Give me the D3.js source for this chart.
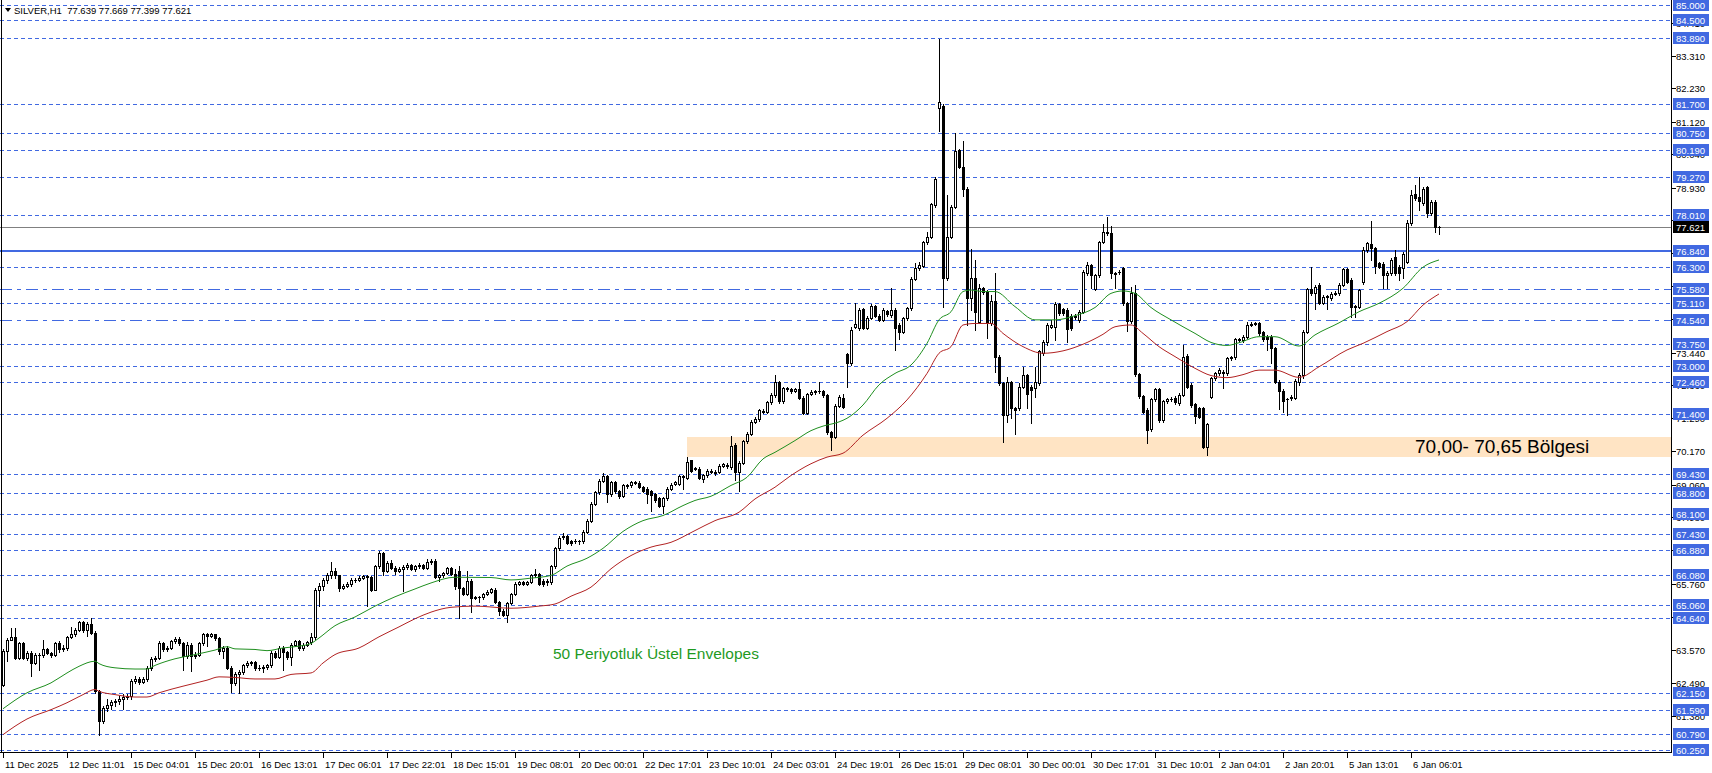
<!DOCTYPE html>
<html><head><meta charset="utf-8">
<script src="https://cdn.jsdelivr.net/npm/d3@7"></script>
<style>
body{margin:0;background:#fff;overflow:hidden}
svg{display:block}
text{font-family:"Liberation Sans",Arial,sans-serif}
</style>
</head><body>
<svg id="chart" width="1712" height="773"></svg>
<script>
// ---------------- DATA ----------------
const symbolTitle = "SILVER,H1  77.639 77.669 77.399 77.621";

const openP = [
62.42,63.53,63.92,64.01,63.31,63.79,63.31,63.48,63.14,63.42,
63.39,63.61,63.48,63.42,63.79,63.59,63.64,64.01,64.09,64.25,
64.50,64.23,64.45,64.14,62.20,61.21,61.65,61.76,61.84,61.87,
61.93,62.01,62.06,62.53,62.61,62.52,62.61,62.98,63.28,63.32,
63.81,63.61,63.64,63.86,63.94,63.79,63.37,63.75,63.37,63.42,
63.79,64.09,64.05,64.09,63.97,63.53,63.64,62.98,62.48,62.76,
62.83,63.06,63.14,63.17,62.98,62.97,63.01,63.06,63.48,63.34,
63.64,63.50,63.34,63.75,63.86,63.64,63.75,63.83,64.01,65.58,
65.69,65.89,66.05,66.19,66.05,65.64,65.71,65.75,65.91,65.89,
65.96,66.02,66.00,65.58,66.36,66.80,66.19,66.47,66.30,66.19,
66.27,66.32,66.38,66.27,66.36,66.38,66.29,66.49,66.54,65.99,
66.05,66.13,66.29,66.10,66.21,65.62,65.44,65.88,65.29,65.33,
65.33,65.44,65.51,65.58,65.16,64.88,64.72,65.14,65.44,65.77,
65.83,65.77,65.83,66.05,66.10,65.88,65.83,65.83,66.36,66.95,
67.32,67.37,67.18,67.18,67.18,67.18,67.49,67.87,68.43,68.81,
69.20,69.35,68.76,69.15,68.84,68.68,69.04,69.04,69.15,69.13,
68.98,68.93,68.84,68.76,68.61,68.37,68.61,68.93,69.09,69.09,
69.35,69.28,69.87,69.59,69.59,69.26,69.37,69.53,69.50,69.48,
69.70,69.72,69.64,70.39,69.48,69.79,70.50,70.75,71.14,71.23,
71.49,71.49,71.80,72.03,72.49,71.83,72.27,72.25,72.19,72.23,
71.95,71.45,72.08,72.14,72.16,72.16,72.03,70.81,70.64,71.69,
71.93,73.39,73.10,74.31,74.26,74.90,74.28,74.61,75.01,74.68,
74.54,74.84,74.70,74.87,74.37,74.15,74.59,74.92,75.90,76.25,
76.34,77.11,77.30,78.36,81.57,81.66,75.94,77.30,78.30,80.18,
79.63,78.89,75.26,75.92,74.48,75.59,75.48,74.42,75.17,73.32,
72.43,71.38,72.46,71.60,71.60,72.32,72.71,72.32,72.26,72.43,
73.43,73.82,74.31,74.31,75.06,74.90,74.87,74.68,74.65,74.54,
74.81,76.09,76.36,75.57,76.03,77.13,77.45,77.41,76.09,76.14,
76.25,75.09,74.50,75.42,72.73,72.00,71.55,70.91,71.91,72.24,
71.21,71.84,71.91,71.95,71.77,72.04,73.35,72.38,71.73,71.60,
71.60,70.33,71.99,72.60,72.76,72.82,72.76,73.26,73.29,73.90,
73.87,73.98,74.37,74.40,74.44,74.14,73.98,73.98,73.59,72.49,
72.19,71.90,71.93,71.93,72.49,72.71,74.15,75.55,75.42,75.70,
75.11,75.31,75.25,75.40,75.42,75.70,76.22,75.87,75.00,74.98,
75.81,76.86,77.06,76.92,76.42,76.40,76.03,76.09,76.62,76.31,
76.25,76.47,77.75,78.72,78.61,78.41,78.94,78.08,78.47,77.639];

const highP = [
63.59,63.97,64.31,64.31,63.85,63.83,63.55,63.53,63.47,63.48,
63.92,63.65,63.52,63.83,63.86,63.75,64.05,64.34,64.30,64.55,
64.55,64.50,64.64,64.20,62.25,61.70,61.95,61.92,61.95,62.05,
62.10,62.12,62.60,62.70,62.66,62.68,63.03,63.33,63.37,63.86,
63.85,63.70,63.92,64.00,64.00,63.83,63.83,63.80,63.50,63.83,
64.14,64.14,64.14,64.12,64.00,63.70,63.70,63.03,62.85,62.92,
63.12,63.20,63.22,63.20,63.06,63.08,63.12,63.53,63.55,63.70,
63.70,63.55,63.81,63.92,63.90,63.80,63.88,64.14,65.62,65.80,
65.95,66.12,66.49,66.30,66.08,65.78,65.82,65.97,65.96,66.02,
66.06,66.06,66.04,66.40,66.85,66.82,66.52,66.55,66.35,66.32,
66.38,66.45,66.42,66.40,66.45,66.42,66.58,66.60,66.58,66.10,
66.18,66.34,66.32,66.27,66.36,65.66,66.21,65.92,65.38,65.38,
65.48,65.56,65.64,65.62,65.20,64.92,65.18,65.48,65.82,65.88,
65.86,65.88,66.10,66.27,66.12,65.92,65.92,66.40,67.00,67.35,
67.46,67.40,67.22,67.25,67.24,67.55,67.92,68.48,68.86,69.25,
69.46,69.40,69.20,69.18,68.88,69.09,69.09,69.20,69.20,69.18,
69.02,68.98,68.88,68.80,68.65,68.66,68.98,69.12,69.20,69.40,
69.40,69.98,69.90,69.66,69.64,69.42,69.58,69.58,69.55,69.75,
69.80,69.78,70.67,70.45,69.84,70.55,70.80,71.20,71.30,71.58,
71.58,71.85,72.10,72.71,72.52,72.32,72.30,72.28,72.28,72.49,
72.00,72.12,72.20,72.22,72.47,72.20,72.08,70.85,71.74,72.03,
72.07,73.43,74.31,75.09,74.92,74.95,74.66,75.06,75.05,74.72,
74.92,74.88,75.59,74.92,74.42,74.64,74.97,75.95,76.42,76.45,
77.16,77.45,78.43,79.27,83.86,81.70,78.69,78.36,80.74,80.22,
80.48,78.94,76.89,76.53,75.72,75.64,75.52,75.37,76.09,73.36,
72.47,72.65,72.50,71.64,72.43,72.99,72.75,72.36,72.99,73.54,
73.87,74.42,74.54,75.12,75.10,74.95,74.92,74.72,74.74,74.86,
76.20,76.45,76.40,76.08,77.16,77.71,77.97,77.67,76.12,76.18,
76.31,75.12,75.64,75.70,72.77,72.04,71.60,71.95,72.29,72.28,
71.89,71.96,71.97,72.00,72.10,73.70,73.40,72.43,71.77,71.64,
71.64,71.12,72.65,72.82,72.93,72.88,73.31,73.34,73.95,73.95,
74.04,74.48,74.46,74.48,74.48,74.18,74.03,74.03,73.64,72.54,
72.24,71.95,72.04,72.57,72.76,74.20,75.60,76.29,75.70,75.75,
75.36,75.38,75.45,75.50,75.75,76.27,76.27,75.92,75.05,75.58,
76.97,77.13,77.84,76.97,76.47,76.45,76.16,76.58,76.86,76.36,
76.78,77.86,78.85,79.02,79.30,78.97,78.99,78.52,78.52,77.669];

const lowP = [
62.37,63.20,63.90,63.28,63.26,63.28,63.25,62.70,63.10,62.92,
63.35,63.44,63.35,63.38,63.52,63.55,63.58,63.97,64.05,64.20,
64.18,64.05,64.10,62.15,60.76,61.15,61.55,61.60,61.72,61.78,
61.60,61.96,61.95,62.48,62.45,62.48,62.55,62.92,63.20,63.26,
63.55,63.55,63.60,63.80,63.75,62.92,63.30,62.87,63.30,63.36,
63.75,63.70,64.00,63.90,63.45,63.30,62.95,62.17,62.40,62.15,
62.78,63.00,63.08,62.92,62.90,62.85,62.95,63.00,63.30,63.30,
62.92,63.28,63.06,63.70,63.58,63.58,63.70,63.78,63.95,65.05,
65.55,65.80,65.98,65.98,65.52,65.60,65.66,65.70,65.84,65.86,
65.92,65.05,65.52,65.55,66.30,66.05,66.15,66.25,66.10,66.15,
65.52,66.25,66.22,66.20,66.30,66.25,66.25,66.44,65.95,65.88,
66.00,66.10,66.05,65.60,64.63,65.40,65.40,64.83,65.25,65.16,
65.28,65.40,65.46,65.12,64.72,64.69,64.50,65.10,65.40,65.72,
65.72,65.72,65.80,66.00,65.72,65.70,65.74,65.78,66.30,66.90,
67.25,67.08,67.05,67.12,67.10,67.13,67.45,67.82,68.38,68.76,
69.15,68.50,68.70,68.80,68.62,68.64,68.96,69.00,69.08,68.94,
68.81,68.46,68.20,68.50,68.33,68.13,68.56,68.88,69.04,69.04,
68.93,69.24,69.48,69.54,69.24,69.15,69.32,69.45,69.40,69.44,
69.65,69.62,69.60,69.23,68.84,69.74,70.45,70.70,71.10,71.18,
71.44,71.44,71.76,71.98,71.78,71.78,72.18,72.10,72.14,71.90,
71.40,71.40,72.03,72.08,72.12,71.98,70.75,70.20,70.60,71.64,
71.60,72.32,73.05,74.26,74.20,74.24,74.24,74.56,74.62,74.50,
74.50,74.68,74.65,73.54,73.90,74.10,74.55,74.88,75.85,76.20,
76.30,77.05,77.25,78.30,80.81,74.98,75.88,77.25,78.25,79.58,
78.67,74.37,74.87,74.20,74.42,75.40,73.93,74.38,72.82,72.38,
70.49,71.16,71.27,70.74,71.55,72.28,71.60,71.10,71.99,72.38,
73.38,73.70,74.26,73.87,74.70,74.70,73.82,74.20,74.58,74.48,
74.76,76.04,75.59,75.52,75.98,77.08,77.36,75.92,75.59,76.06,
75.04,74.17,74.45,72.68,71.95,71.45,70.44,70.86,71.86,71.16,
71.16,71.79,71.86,71.75,71.72,72.00,72.28,71.66,71.10,71.27,
70.27,70.05,71.94,72.55,72.70,72.26,72.70,73.20,73.24,73.82,
73.82,73.93,74.32,74.36,74.04,73.84,73.54,73.12,72.43,71.57,
71.49,71.38,71.88,71.90,72.38,72.62,74.09,75.37,74.89,75.06,
75.06,74.89,75.20,75.35,75.37,75.65,75.76,74.65,74.65,74.93,
75.73,76.81,76.53,76.09,76.26,75.59,75.59,76.04,76.04,75.87,
75.92,76.42,77.70,78.53,78.19,78.36,77.97,78.03,77.47,77.399];

const closeP = [
63.53,63.92,64.01,63.31,63.79,63.31,63.48,63.14,63.42,63.39,
63.61,63.48,63.42,63.79,63.59,63.64,64.01,64.09,64.25,64.50,
64.23,64.45,64.14,62.20,61.21,61.65,61.76,61.84,61.87,61.93,
62.01,62.06,62.53,62.61,62.52,62.61,62.98,63.28,63.32,63.81,
63.61,63.64,63.86,63.94,63.79,63.37,63.75,63.37,63.42,63.79,
64.09,64.05,64.09,63.97,63.53,63.64,62.98,62.48,62.76,62.83,
63.06,63.14,63.17,62.98,62.97,63.01,63.06,63.48,63.34,63.64,
63.50,63.34,63.75,63.86,63.64,63.75,63.83,64.01,65.58,65.69,
65.89,66.05,66.19,66.05,65.64,65.71,65.75,65.91,65.89,65.96,
66.02,66.00,65.58,66.36,66.80,66.19,66.47,66.30,66.19,66.27,
66.32,66.38,66.27,66.36,66.38,66.29,66.49,66.54,65.99,66.05,
66.13,66.29,66.10,65.69,65.62,65.44,65.88,65.29,65.33,65.33,
65.44,65.51,65.60,65.16,64.88,64.72,65.14,65.44,65.77,65.83,
65.77,65.83,66.05,66.10,65.77,65.77,65.88,66.36,66.95,67.29,
67.37,67.13,67.13,67.19,67.18,67.49,67.87,68.43,68.81,69.20,
69.35,68.76,69.15,68.84,68.68,69.04,69.01,69.15,69.13,68.98,
68.87,68.76,68.73,68.54,68.37,68.61,68.93,69.06,69.15,69.35,
69.31,69.83,69.53,69.61,69.28,69.37,69.53,69.50,69.46,69.70,
69.74,69.68,70.34,69.48,69.79,70.50,70.75,71.14,71.23,71.53,
71.52,71.80,72.05,72.49,71.83,72.27,72.23,72.19,72.23,71.95,
71.45,72.08,72.14,72.16,72.19,72.03,70.81,70.64,71.69,71.97,
71.66,73.10,74.20,74.39,74.87,74.28,74.61,75.01,74.68,74.54,
74.87,74.72,74.87,74.28,74.15,74.59,74.92,75.90,76.25,76.36,
77.11,77.30,78.38,79.22,81.77,75.94,77.30,78.30,80.15,79.63,
78.89,75.26,75.92,74.79,75.59,75.48,74.42,75.17,73.32,72.43,
71.38,72.46,71.60,71.55,72.32,72.71,72.07,72.21,72.46,73.49,
73.82,74.37,74.37,75.06,74.76,74.76,74.24,74.28,74.68,74.81,
76.14,76.36,76.03,76.03,77.11,77.45,77.41,76.09,76.05,76.12,
75.09,74.50,75.42,72.73,72.00,71.49,70.88,71.91,72.24,71.21,
71.84,71.91,71.91,71.82,72.04,73.32,72.32,71.71,71.36,71.32,
70.33,71.07,72.60,72.76,72.87,72.76,73.26,73.29,73.90,73.87,
73.98,74.37,74.40,74.42,74.09,73.89,73.89,73.59,72.49,72.19,
71.86,71.90,71.99,72.52,72.71,74.15,75.55,75.42,75.64,75.11,
75.31,75.33,75.40,75.44,75.70,76.22,75.81,74.96,74.98,75.53,
76.86,77.08,76.92,76.33,76.31,76.03,76.11,76.53,76.09,76.09,
76.73,77.77,78.69,78.58,78.50,78.88,78.08,78.47,77.64,77.621];

// Envelope (50-period exponential) — upper (green) and lower (red), read at sample bars
const upperEnvBars = [0,6,12,16,19,23,24,28,33,36,38,43,48,53,56,58,63,66,70,74,77,79,83,88,93,98,103,107,113,122,127,132,137,141,146,150,155,160,165,170,173,177,182,186,190,193,198,202,205,209,211,215,219,223,227,231,234,237,240,242,245,248,253,258,263,268,273,277,280,283,287,292,295,298,302,306,309,314,318,324,328,334,339,344,350,355,359];
const upperEnvVals = [61.62,62.15,62.48,62.81,63.03,63.20,63.12,62.98,62.94,62.94,63.06,63.28,63.42,63.57,63.68,63.61,63.59,63.55,63.64,63.70,63.79,63.97,64.38,64.67,65.03,65.34,65.60,65.80,65.99,65.98,65.90,65.96,66.05,66.36,66.62,66.95,67.51,67.87,68.04,68.37,68.54,68.68,69.04,69.31,69.92,70.14,70.53,70.86,71.01,71.15,71.27,71.71,72.38,72.76,73.04,73.76,74.54,74.81,75.48,75.53,75.48,75.48,74.98,74.54,74.54,74.68,74.95,75.42,75.50,75.42,74.95,74.54,74.31,74.09,73.79,73.69,73.78,73.98,73.98,73.67,74.04,74.44,74.81,75.09,75.59,76.29,76.53];
const lowerEnvBars = [0,3,6,12,16,20,23,24,28,33,36,39,45,51,54,58,63,68,72,77,80,83,89,94,99,103,107,112,118,127,134,138,142,147,152,157,162,167,173,178,184,188,193,197,202,206,210,215,221,226,231,234,237,240,243,247,250,255,260,265,270,275,278,282,285,289,293,298,302,306,310,314,318,324,329,336,340,346,351,355,359];
const lowerEnvVals = [60.76,61.04,61.28,61.59,61.82,62.09,62.26,62.20,62.09,62.01,62.01,62.15,62.37,62.57,62.68,62.66,62.61,62.61,62.76,62.81,63.14,63.42,63.64,64.01,64.34,64.61,64.83,64.99,65.03,64.96,65.03,65.10,65.36,65.66,66.27,66.71,66.99,67.15,67.54,67.87,68.15,68.59,68.98,69.37,69.76,69.98,70.11,70.71,71.27,71.88,72.76,73.43,73.65,74.37,74.42,74.42,74.09,73.65,73.43,73.51,73.73,74.06,74.31,74.37,74.09,73.65,73.32,72.93,72.69,72.62,72.72,72.87,72.87,72.63,72.98,73.54,73.76,74.15,74.48,75.03,75.40];

// Horizontal levels
const levelPrices = [85.000,84.500,83.890,81.700,80.750,80.190,79.270,78.010,76.840,76.300,75.580,75.110,74.540,73.750,73.000,72.460,71.400,69.430,68.800,68.100,67.430,66.880,66.080,65.060,64.640,62.150,61.590,60.790,60.250];
const solidLevels = [76.840];
const dashDotLevels = [75.580, 74.540];
const bidPrice = 77.621;
const zoneRange = [70.00, 70.65];
const zoneStartBar = 171;

// Price axis ticks
const axisTicks = [84.410,83.310,82.230,81.120,80.040,78.930,77.850,76.750,75.660,74.560,73.440,72.360,71.290,70.170,69.060,67.980,66.880,65.760,64.670,63.570,62.490,61.380];

// Time axis
const timeLabels = ["11 Dec 2025","12 Dec 11:01","15 Dec 04:01","15 Dec 20:01","16 Dec 13:01","17 Dec 06:01","17 Dec 22:01","18 Dec 15:01","19 Dec 08:01","20 Dec 00:01","22 Dec 17:01","23 Dec 10:01","24 Dec 03:01","24 Dec 19:01","26 Dec 15:01","29 Dec 08:01","30 Dec 00:01","30 Dec 17:01","31 Dec 10:01","2 Jan 04:01","2 Jan 20:01","5 Jan 13:01","6 Jan 06:01"];
const timeLabelBars = [0,16,32,48,64,80,96,112,128,144,160,176,192,208,224,240,256,272,288,304,320,336,352];

const zoneText = "70,00- 70,65 Bölgesi";
const envText = "50 Periyotluk Üstel Envelopes";

// ---------------- LAYOUT ----------------
const plotR = 1671, plotB = 752;
const svg = d3.select("#chart");
const x = d3.scaleLinear().domain([0, closeP.length - 1]).range([3, 1439]);
const y = d3.scaleLinear().domain([85, 60.25]).range([5, 750]);
const BLUE = "#4169E1";

svg.append("rect").attr("width",1712).attr("height",773).attr("fill","#fff");
svg.append("defs").append("clipPath").attr("id","plotclip")
  .append("rect").attr("x",0).attr("y",0).attr("width",plotR).attr("height",plotB);
const plot = svg.append("g").attr("clip-path","url(#plotclip)");

// zone
plot.append("rect")
  .attr("x", Math.round(x(zoneStartBar)))
  .attr("y", Math.round(y(zoneRange[1])))
  .attr("width", plotR - Math.round(x(zoneStartBar)))
  .attr("height", Math.round(y(zoneRange[0])) - Math.round(y(zoneRange[1])))
  .attr("fill", "#FFE4C4");

// level lines
const py = p => Math.round(y(p)) + 0.5;
plot.selectAll("line.lvl").data(levelPrices).enter().append("line")
  .attr("x1",0).attr("x2",plotR)
  .attr("y1",d=>solidLevels.includes(d)? Math.round(y(d)) : py(d))
  .attr("y2",d=>solidLevels.includes(d)? Math.round(y(d)) : py(d))
  .attr("stroke",BLUE)
  .attr("stroke-width",d=>solidLevels.includes(d)?2:1)
  .attr("stroke-dasharray",d=>solidLevels.includes(d)?null:(dashDotLevels.includes(d)?"12,5,4,5":"4,3"))
  .attr("shape-rendering","crispEdges");

// bid line
plot.append("line").attr("x1",0).attr("x2",plotR)
  .attr("y1",py(bidPrice)).attr("y2",py(bidPrice))
  .attr("stroke","#808080").attr("stroke-width",1).attr("shape-rendering","crispEdges");

// candles
const candles = plot.append("g").attr("shape-rendering","crispEdges");
closeP.forEach((c,i)=>{
  const cx = Math.round(x(i));
  const o = openP[i];
  const yo = Math.round(y(o)), yc = Math.round(y(c)), yh = Math.round(y(highP[i])), yl = Math.round(y(lowP[i]));
  candles.append("line").attr("x1",cx+0.5).attr("x2",cx+0.5).attr("y1",yh).attr("y2",yl+1)
    .attr("stroke","#000").attr("stroke-width",1);
  const top = Math.min(yo,yc), bot = Math.max(yo,yc);
  if (bot - top < 1) {
    candles.append("line").attr("x1",cx-1).attr("x2",cx+2).attr("y1",top+0.5).attr("y2",top+0.5)
      .attr("stroke","#000").attr("stroke-width",1);
  } else {
    candles.append("rect").attr("x",cx-0.5).attr("y",top+0.5).attr("width",2).attr("height",bot-top)
      .attr("fill", c >= o ? "#fff" : "#000").attr("stroke","#000").attr("stroke-width",1);
  }
});

// envelopes
const line = d3.line().x(d=>x(d[0])).y(d=>y(d[1])).curve(d3.curveMonotoneX);
plot.append("path").datum(upperEnvBars.map((b,k)=>[b,upperEnvVals[k]]))
  .attr("d",line).attr("fill","none").attr("stroke","#1f8f1f").attr("stroke-width",1);
plot.append("path").datum(lowerEnvBars.map((b,k)=>[b,lowerEnvVals[k]]))
  .attr("d",line).attr("fill","none").attr("stroke","#b22222").attr("stroke-width",1);

// annotations
svg.append("text").attr("x",1415).attr("y",453).attr("font-size",19).attr("fill","#000").text(zoneText);
svg.append("text").attr("x",553).attr("y",659).attr("font-size",15.5).attr("fill","#1f9a1f").text(envText);

// frame
const frame = svg.append("g").attr("shape-rendering","crispEdges").attr("stroke","#000");
frame.append("line").attr("x1",1.5).attr("x2",1.5).attr("y1",0).attr("y2",plotB+1);
frame.append("line").attr("x1",0).attr("x2",plotR+1).attr("y1",plotB+0.5).attr("y2",plotB+0.5);
frame.append("line").attr("x1",plotR+0.5).attr("x2",plotR+0.5).attr("y1",0).attr("y2",plotB+1);

// time axis
const tg = svg.append("g");
timeLabelBars.forEach((b,k)=>{
  const tx = Math.round(x(b));
  tg.append("line").attr("x1",tx+0.5).attr("x2",tx+0.5).attr("y1",plotB).attr("y2",plotB+6)
    .attr("stroke","#000").attr("shape-rendering","crispEdges");
  tg.append("text").attr("x",tx+2).attr("y",768).attr("font-size",9.5).attr("fill","#000").text(timeLabels[k]);
});

// price axis regular ticks
const ag = svg.append("g");
axisTicks.forEach(p=>{
  const yy = py(p);
  ag.append("line").attr("x1",plotR).attr("x2",plotR+5).attr("y1",yy).attr("y2",yy)
    .attr("stroke","#000").attr("shape-rendering","crispEdges");
  ag.append("text").attr("x",1676).attr("y",yy+3.5).attr("font-size",9.5).attr("fill","#000").text(p.toFixed(3));
});
// highlighted level labels
levelPrices.forEach(p=>{
  const yy = Math.round(y(p));
  ag.append("rect").attr("x",1673).attr("y",yy-6).attr("width",36).attr("height",12).attr("fill",BLUE);
  ag.append("text").attr("x",1676).attr("y",yy+4).attr("font-size",9.5).attr("fill","#fff").text(p.toFixed(3));
});
// bid label
{
  const yy = Math.round(y(bidPrice));
  ag.append("rect").attr("x",1673).attr("y",yy-6).attr("width",36).attr("height",12).attr("fill","#000");
  ag.append("text").attr("x",1676).attr("y",yy+4).attr("font-size",9.5).attr("fill","#fff").text(bidPrice.toFixed(3));
}

// title
svg.append("path").attr("d","M5,8 L11,8 L8,12 Z").attr("fill","#000");
svg.append("text").attr("x",14).attr("y",14).attr("font-size",9.5).attr("fill","#000")
  .style("white-space","pre").text(symbolTitle);
</script>
</body></html>
